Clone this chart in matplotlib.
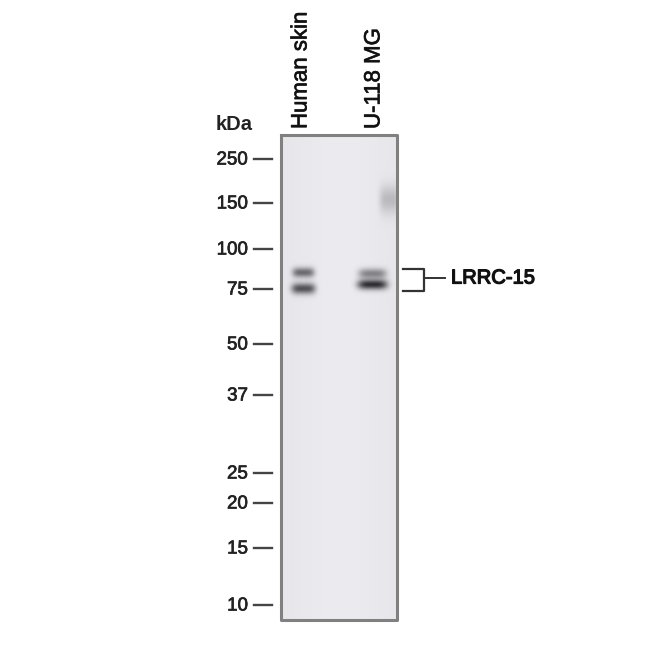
import numpy as np
import matplotlib
matplotlib.use('Agg')
import matplotlib.pyplot as plt
import matplotlib.patheffects as pe

FONT = ['Liberation Sans', 'DejaVu Sans']

# ladder, position on the membrane
ladder_kda = ['250', '150', '100', '75', '50', '37', '25', '20', '15', '10']
ladder_y = [159, 203, 249, 289, 344, 395, 473, 503, 548, 605]

lanes = ['Human skin', 'U-118 MG']
lane_x = [301, 374]

# bands: x, y, half width, half height, darkness
band_x = [303, 303, 372, 372, 389]
band_y = [272, 288, 273, 284, 199]
band_w = [11, 12, 14, 15, 10]
band_h = [5.0, 5.5, 5.0, 5.0, 14]
band_dark = [125, 150, 100, 185, 45]

target = 'LRRC-15'

left, right, top, bottom = 281, 397, 135, 620

xx, yy = np.meshgrid(np.arange(left, right), np.arange(top, bottom))
blot = np.full(xx.shape, 229.0)
# membrane is a little lighter in the middle of the lanes
blot += 6 * np.exp(-((xx - 340) / 45.0) ** 2)
for x, y, w, h, d in zip(band_x, band_y, band_w, band_h, band_dark):
    blot -= d * np.exp(-((xx - x) / w) ** 4 - ((yy - y) / h) ** 2)
blot = np.clip(blot, 0, 255)
rgb = np.dstack([blot, blot, blot + 5]).clip(0, 255) / 255

fig = plt.figure(figsize=(6.5, 6.5), dpi=100)
ax = fig.add_axes([0, 0, 1, 1])
ax.axis('off')

ax.imshow(rgb, extent=(left, right, bottom, top), aspect='auto', interpolation='bilinear', zorder=1)
ax.set_xlim(0, 650)
ax.set_ylim(650, 0)
ax.plot([left, right, right, left, left], [top, top, bottom, bottom, top], color='#808080', lw=2.2, zorder=2)

thin = [pe.withStroke(linewidth=0.5, foreground='#222222')]
thick = [pe.withStroke(linewidth=0.9, foreground='#111111')]

# ladder
for lab, y in zip(ladder_kda, ladder_y):
    ax.plot([254, 272], [y, y], color='#444444', lw=1.7)
    ax.text(248, y + 1, lab, ha='right', va='center', fontsize=13.5, family=FONT, color='#222222', path_effects=thin)
ax.text(234, 124, 'kDa', ha='center', va='center', fontsize=14.5, family=FONT, fontweight='bold', color='#222222')

# lane labels
for lab, x in zip(lanes, lane_x):
    ax.text(x, 129, lab, rotation=90, ha='center', va='bottom', fontsize=16, family=FONT, color='#111111', path_effects=thin)

# bracket and target name
ax.plot([403, 424, 424, 403], [269, 269, 291, 291], color='#333333', lw=1.6)
ax.plot([424, 445], [278, 278], color='#333333', lw=1.4)
ax.text(451, 278, target, ha='left', va='center', fontsize=14.5, family=FONT, color='#111111', path_effects=thick)

fig.savefig('out.png', dpi=100)
